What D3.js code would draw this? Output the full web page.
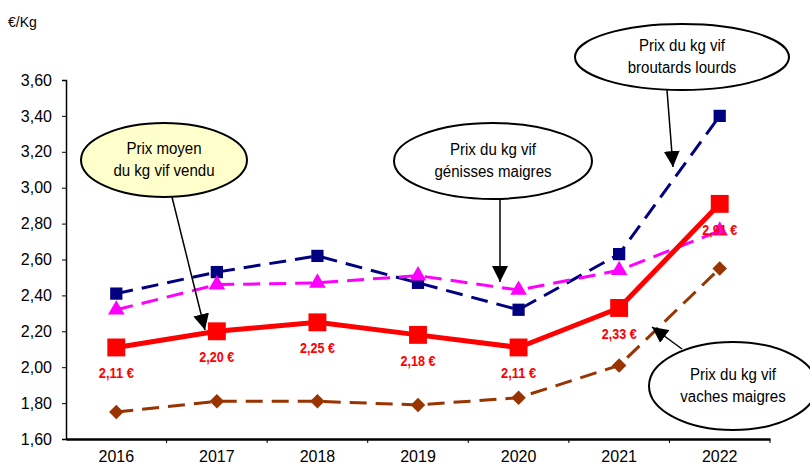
<!DOCTYPE html>
<html><head><meta charset="utf-8">
<script src="https://cdn.jsdelivr.net/npm/d3@7"></script>
<style>body{margin:0;background:#fff}svg{display:block;font-family:"Liberation Sans",Arial,sans-serif}</style>
</head><body><svg id="c" width="810" height="466"></svg>
<script>
const years = ["2016","2017","2018","2019","2020","2021","2022"];
const prixMoyen = [2.11, 2.20, 2.25, 2.18, 2.11, 2.33, 2.91];
const broutards = [2.41, 2.53, 2.62, 2.47, 2.32, 2.63, 3.40];
const genisses = [2.32, 2.46, 2.47, 2.51, 2.43, 2.54, 2.76];
const vaches = [1.75, 1.81, 1.81, 1.79, 1.83, 2.01, 2.55];
const yTicks = [1.6,1.8,2.0,2.2,2.4,2.6,2.8,3.0,3.2,3.4,3.6];
const unitLabel = "€/Kg";

const svg = d3.select("#c");
const m = {l:66, r:40, t:80, b:27};
const W = 810, H = 466;
const x = d3.scaleBand().domain(years).range([m.l, W - m.r]);
const y = d3.scaleLinear().domain([1.6, 3.6]).range([H - m.b, m.t]);
const cx = d => x(d) + x.bandwidth()/2;
const fmt = v => v.toFixed(2).replace(".", ",");

// axes
const ya = svg.append("g").attr("transform",`translate(${m.l},0)`)
  .call(d3.axisLeft(y).tickValues(yTicks).tickFormat(fmt).tickSize(4).tickPadding(10));
ya.select(".domain").attr("stroke","#000").attr("stroke-width",1.5);
ya.selectAll("text").attr("font-size",16).attr("fill","#000").attr("font-family","Liberation Sans, Arial");
const xa = svg.append("g").attr("transform",`translate(0,${H-m.b})`)
  .call(d3.axisBottom(x).tickSize(0).tickPadding(12));
xa.select(".domain").attr("stroke","#000").attr("stroke-width",2.5);
xa.selectAll("text").attr("font-size",16).attr("fill","#000").attr("font-family","Liberation Sans, Arial");
svg.append("g").selectAll("line").data(years).join("line")
  .attr("x1", (d,i)=> m.l + x.step()*(i+1)).attr("x2",(d,i)=> m.l + x.step()*(i+1))
  .attr("y1", H-m.b).attr("y2", H-m.b+4).attr("stroke","#000").attr("stroke-width",1);

svg.append("text").attr("x",8).attr("y",27).attr("font-size",14).text(unitLabel);

const line = d3.line().x((d,i)=>cx(years[i])).y(d=>y(d));
function series(data, color, width, dash, marker, size, rot){
  svg.append("path").datum(data).attr("d",line).attr("fill","none")
    .attr("stroke",color).attr("stroke-width",width).attr("stroke-dasharray",dash||null);
  const sym = d3.symbol().type(marker).size(size);
  svg.append("g").selectAll("path").data(data).join("path")
    .attr("d", sym).attr("fill", color)
    .attr("transform",(d,i)=>`translate(${cx(years[i])},${y(d)}) rotate(${rot||0})`);
}
series(vaches, "#993300", 3, "17,9", d3.symbolSquare, 105, 45);
series(broutards, "#000080", 3, "17,9", d3.symbolSquare, 150);
series(genisses, "#FF00FF", 3, "17,9", d3.symbolTriangle, 120);
series(prixMoyen, "#FF0000", 5, null, d3.symbolSquare, 320);

svg.append("g").selectAll("text").data(prixMoyen).join("text")
  .attr("x",(d,i)=>cx(years[i])).attr("y",d=>y(d)+31)
  .attr("text-anchor","middle").attr("font-size",14).attr("font-weight","bold")
  .attr("fill","#FF0000").attr("textLength",35).attr("lengthAdjust","spacingAndGlyphs")
  .text(d=>fmt(d)+" €");

// callouts
svg.append("defs").append("marker").attr("id","ah").attr("viewBox","0 0 10 10")
  .attr("refX",10).attr("refY",5).attr("markerWidth",16).attr("markerHeight",16)
  .attr("orient","auto").attr("markerUnits","userSpaceOnUse")
  .append("path").attr("d","M0,0L10,5L0,10Z").attr("fill","#000");

const callouts = [
  {cx:164, cy:160, rx:83, ry:37, fill:"#FFFFCC", lines:["Prix moyen","du kg vif vendu"], a:[172,197,205,330]},
  {cx:493, cy:161, rx:99, ry:38, fill:"#fff", lines:["Prix du kg vif","génisses maigres"], a:[500,199,500,282]},
  {cx:682, cy:57, rx:107, ry:33, fill:"#fff", lines:["Prix du kg vif","broutards lourds"], a:[667,90,673,167]},
  {cx:733, cy:386, rx:84, ry:44, fill:"#fff", lines:["Prix du kg vif","vaches maigres"], a:[682,349,652,327]}
];
callouts.forEach(c=>{
  svg.append("line").attr("x1",c.a[0]).attr("y1",c.a[1]).attr("x2",c.a[2]).attr("y2",c.a[3])
    .attr("stroke","#000").attr("stroke-width",1.5).attr("marker-end","url(#ah)");
  svg.append("ellipse").attr("cx",c.cx).attr("cy",c.cy).attr("rx",c.rx).attr("ry",c.ry)
    .attr("fill",c.fill).attr("stroke","#000").attr("stroke-width",2);
  c.lines.forEach((t,i)=>{
    const tx = svg.append("text").attr("x",c.cx).attr("y",c.cy-6+i*22)
      .attr("text-anchor","middle").attr("font-size",16).attr("fill","#000").text(t);
    const L = tx.node().getComputedTextLength();
    tx.attr("textLength", L*0.94).attr("lengthAdjust","spacingAndGlyphs");
  });
});
</script></body></html>
